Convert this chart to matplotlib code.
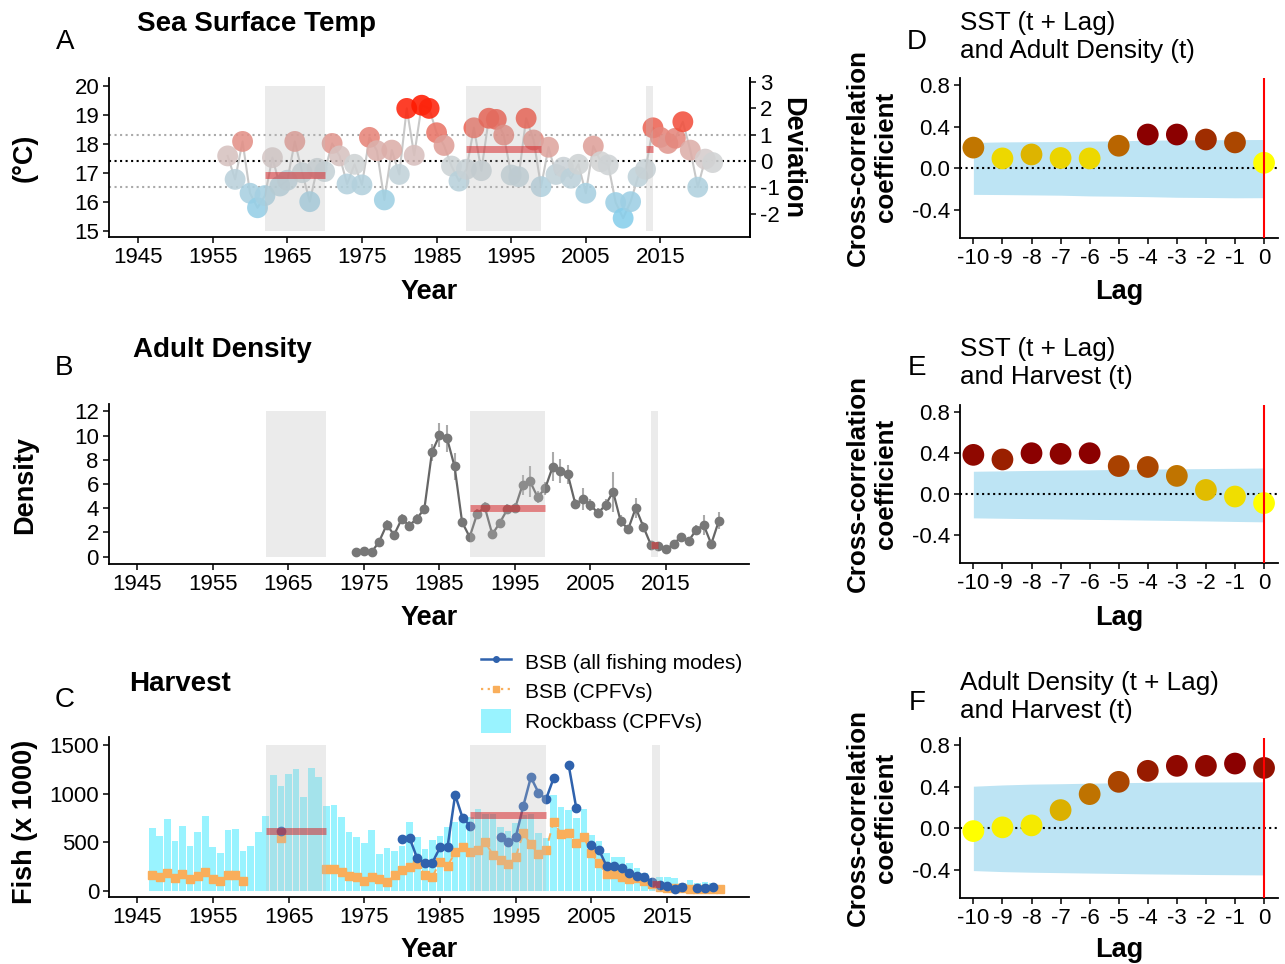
import numpy as np
import matplotlib
matplotlib.use('Agg')
import matplotlib.pyplot as plt
import matplotlib.colors as mcolors
from matplotlib.lines import Line2D
from matplotlib.patches import Patch
from matplotlib.ticker import FuncFormatter

plt.rcParams['font.family'] = ['Liberation Sans', 'DejaVu Sans']
plt.rcParams['axes.linewidth'] = 1.3
plt.rcParams['xtick.major.width'] = 1.1
plt.rcParams['ytick.major.width'] = 1.1
plt.rcParams['xtick.major.size'] = 4
plt.rcParams['ytick.major.size'] = 4
plt.rcParams['xtick.labelsize'] = 16
plt.rcParams['ytick.labelsize'] = 16
plt.rcParams['axes.unicode_minus'] = False

W, H = 1285, 964

# ---- data ----
sst_years = list(range(1957, 2023))
sst = [17.59, 16.78, 18.09, 16.30, 15.80, 16.22, 17.53, 16.55, 16.75, 18.09,
       17.01, 16.01, 17.16, 17.05, 18.02, 17.59, 16.62, 17.30, 16.59, 18.23,
       17.77, 16.07, 17.79, 16.95, 19.23, 17.61, 19.34, 19.23, 18.39, 17.95,
       17.24, 16.72, 17.13, 18.56, 17.08, 18.89, 18.85, 18.31, 16.93, 16.87,
       18.89, 18.14, 16.53, 17.89, 16.95, 17.20, 16.82, 17.30, 16.30, 17.93,
       17.39, 17.28, 15.98, 15.44, 16.01, 16.87, 17.13, 18.56, 18.23, 18.02,
       18.20, 18.77, 17.79, 16.51, 17.48, 17.36]

dens_years = list(range(1974, 2023))
density = [0.36, 0.44, 0.36, 1.24, 2.62, 1.82, 3.12, 2.57, 3.15, 3.95,
           8.61, 10.02, 9.77, 7.45, 2.85, 1.63, 3.56, 4.09, 1.85, 2.81,
           3.92, 4.00, 5.91, 6.21, 4.92, 5.63, 7.43, 7.09, 6.79, 4.34,
           4.75, 4.28, 3.59, 4.28, 5.36, 2.93, 2.27, 4.03, 2.48, 0.99,
           0.89, 0.61, 1.03, 1.66, 1.30, 2.21, 2.62, 1.05, 2.95]
dens_err = [0.1, 0.1, 0.1, 0.2, 0.4, 0.3, 0.4, 0.4, 0.4, 0.3,
            0.7, 1.0, 1.1, 1.1, 0.3, 0.2, 0.4, 0.4, 0.3, 0.3,
            0.4, 0.4, 0.8, 1.3, 0.5, 0.55, 1.2, 1.0, 0.8, 0.4,
            0.9, 0.5, 0.4, 0.5, 1.65, 0.5, 0.3, 0.8, 0.4, 0.15,
            0.15, 0.15, 0.2, 0.3, 0.3, 0.4, 0.8, 0.3, 0.7]

harv_years = list(range(1947, 2023))
nan = np.nan
rockbass = [644, 565, 740, 514, 668, 462, 609, 771, 452, 394,
            623, 634, 414, 462, 603, 771, 1192, 1075, 1202, 1250,
            969, 1267, 1171, 877, 884, 760, 609, 555, 493, 627,
            377, 438, 411, 460, 712, 560, 430, 520, 568, 654,
            712, 729, 763, 839, 791, 791, 660, 620, 700, 780,
            790, 600, 540, 983, 866, 832, 753, 846, 575, 517,
            387, 353, 353, 284, 233, 182, 113, 147, 147, 130,
            86, 113, 79, 96, 79, 45]
bsb_all = [nan, nan, nan, nan, nan, nan, nan, nan, nan, nan,
           nan, nan, nan, nan, nan, nan, nan, 616, nan, nan,
           nan, nan, nan, nan, nan, nan, nan, nan, nan, nan,
           nan, nan, nan, 531, 541, 336, 291, 291, 449, 455,
           986, 747, 671, nan, nan, nan, 552, 500, 552, 873,
           1168, 1010, 942, 1158, nan, 1288, 849, nan, 473, 421,
           257, 257, 240, 188, 154, 147, 96, 58, 51, 24,
           45, nan, 34, 34, 45, nan]
bsb_cpfv = [164, 147, 188, 137, 175, 120, 158, 199, 120, 103,
            164, 164, 106, nan, nan, nan, nan, 541, nan, nan,
            nan, nan, nan, 226, 226, 192, 158, 141, 106, 147,
            120, 89, 164, 216, 243, 277, 164, 147, 301, 257,
            397, 455, 397, 421, 500, 370, 318, 274, 353, 593,
            480, 377, 421, 712, 582, 599, 490, 552, 387, 284,
            175, 175, 147, 123, 137, 106, 72, 45, 34, 34,
            34, 27, 27, 27, 27, 27]

periods = [(1962, 1970), (1989, 1999), (2013, 2014)]

lags = list(range(-10, 1))
ccf_d = [0.20, 0.096, 0.134, 0.10, 0.096, 0.218, 0.326, 0.326, 0.278, 0.25, 0.054]
band_d_hi = [0.25, 0.255, 0.257, 0.258, 0.262, 0.265, 0.272, 0.273, 0.275, 0.277, 0.278]
band_d_lo = [-0.25, -0.252, -0.255, -0.258, -0.265, -0.268, -0.272, -0.278, -0.28, -0.283, -0.282]
ccf_e = [0.384, 0.339, 0.40, 0.394, 0.40, 0.275, 0.266, 0.179, 0.042, -0.022, -0.086]
band_e_hi = [0.224, 0.228, 0.232, 0.235, 0.238, 0.242, 0.245, 0.248, 0.25, 0.253, 0.256]
band_e_lo = [-0.23, -0.234, -0.238, -0.241, -0.245, -0.248, -0.252, -0.256, -0.26, -0.265, -0.269]
ccf_f = [-0.026, 0.01, 0.029, 0.176, 0.33, 0.448, 0.554, 0.602, 0.602, 0.624, 0.582]
band_f_hi = [0.406, 0.418, 0.426, 0.43, 0.435, 0.44, 0.443, 0.445, 0.446, 0.447, 0.448]
band_f_lo = [-0.406, -0.416, -0.422, -0.426, -0.43, -0.434, -0.438, -0.441, -0.444, -0.446, -0.448]


def fx(x):
    return x / W


def fy(y):
    return 1 - y / H


def add_ax(left, top, right, bottom):
    return fig.add_axes([fx(left), fy(bottom), (right - left) / W, (bottom - top) / H])


def classic(ax):
    ax.spines['top'].set_visible(False)
    ax.spines['right'].set_visible(False)
    ax.tick_params(direction='out', colors='black', pad=3)


def shade(ax, ylo, yhi):
    for s, e in periods:
        ax.fill_between([s, e], ylo, yhi, color='#BEBEBE', alpha=0.3, lw=0, zorder=5)


def period_means(years, vals, ax):
    years = np.array(years)
    vals = np.array(vals, dtype=float)
    for s, e in periods:
        m = (years >= s) & (years <= e)
        if np.any(~np.isnan(vals[m])):
            ax.plot([s, e], [np.nanmean(vals[m])] * 2, color='#D7191C', alpha=0.5,
                    lw=5, solid_capstyle='butt', zorder=6)


fig = plt.figure(figsize=(W / 100, H / 100), dpi=100)
year_ticks = list(range(1945, 2016, 10))
plain = FuncFormatter(lambda v, p: '%g' % v)

# ---- A: SST ----
ax = add_ax(109, 78, 750, 237)
classic(ax)
mean_sst = np.mean(sst)
sd_sst = np.std(sst, ddof=1)
shade(ax, 15, 20)
ax.axhline(mean_sst, color='black', ls=':', lw=1.5, zorder=1)
ax.axhline(mean_sst + sd_sst, color='#AAAAAA', ls=':', lw=1.5, zorder=1)
ax.axhline(mean_sst - sd_sst, color='#AAAAAA', ls=':', lw=1.5, zorder=1)
ax.plot(sst_years, sst, color='#C8C8C8', lw=1.5, zorder=2)
cmap_sst = mcolors.LinearSegmentedColormap.from_list('sst', ['#87CEEB', '#D3D3D3', '#FF1A00'])
norm_sst = mcolors.TwoSlopeNorm(vcenter=mean_sst, vmin=min(sst), vmax=max(sst))
ax.scatter(sst_years, sst, s=225, c=sst, cmap=cmap_sst, norm=norm_sst,
           alpha=0.88, edgecolors='none', zorder=3)
period_means(sst_years, sst, ax)
ax.set_xlim(1941.1, 2027.0)
ax.set_ylim(14.79, 20.28)
ax.set_xticks(year_ticks)
ax.set_yticks(range(15, 21))
ax.spines['right'].set_visible(True)
sec = ax.secondary_yaxis('right', functions=(lambda t: (t - mean_sst) / sd_sst,
                                             lambda d: d * sd_sst + mean_sst))
sec.set_yticks(range(-2, 4))
sec.yaxis.set_major_formatter(plain)
sec.tick_params(direction='out', pad=3)

# ---- B: density ----
ax = add_ax(108.5, 404, 749, 564)
classic(ax)
shade(ax, 0, 12)
d = np.array(density)
e = np.array(dens_err)
ax.vlines(dens_years, d - e, d + e, color='#AAAAAA', lw=1.5, zorder=2)
ax.plot(dens_years, density, color='#666666', lw=1.6, marker='o', ms=6,
        mfc='#777777', mec='#777777', zorder=3)
period_means(dens_years, density, ax)
ax.set_xlim(1941.16, 2026.0)
ax.set_ylim(-0.6, 12.6)
ax.set_xticks(year_ticks)
ax.set_yticks(range(0, 13, 2))

# ---- C: harvest ----
ax = add_ax(109, 737, 749, 897)
classic(ax)
ax.bar(harv_years, rockbass, width=0.88, color='#80F0FF', alpha=0.8, lw=0, zorder=1)
ax.plot(harv_years, bsb_cpfv, color='#F9AE5B', lw=1.4, ls=(0, (4, 3)), marker='s',
        ms=5.3, zorder=3)
ax.plot(harv_years, bsb_all, color='#2F62AD', lw=1.8, marker='o', ms=6, zorder=4)
shade(ax, 0, 1500)
period_means(harv_years, bsb_all, ax)
ax.set_xlim(1941.3, 2025.8)
ax.set_ylim(-60, 1580)
ax.set_xticks(year_ticks)
ax.set_yticks([0, 500, 1000, 1500])

handles = [Line2D([], [], color='#2F62AD', lw=1.8, marker='o', ms=4),
           Line2D([], [], color='#F9AE5B', lw=1.6, ls=(0, (1, 2)), marker='s', ms=4.5),
           Patch(facecolor='#80F0FF', alpha=0.8, lw=0)]
fig.legend(handles, ['BSB (all fishing modes)', 'BSB (CPFVs)', 'Rockbass (CPFVs)'],
           loc='upper left', bbox_to_anchor=(fx(481), fy(650)), frameon=False,
           fontsize=15, handlelength=1.45, handleheight=1.35, handletextpad=0.65,
           labelspacing=0.3, borderpad=0, borderaxespad=0)

# ---- D, E, F: cross correlations ----
cmap_cc = mcolors.LinearSegmentedColormap.from_list('cc', ['#FFFF00', '#8B0000'])
right_panels = [(78, 238, ccf_d, band_d_hi, band_d_lo),
                (405, 563, ccf_e, band_e_hi, band_e_lo),
                (738, 898, ccf_f, band_f_hi, band_f_lo)]
for top, bottom, cc, hi, lo in right_panels:
    ax = add_ax(960, top, 1278, bottom)
    classic(ax)
    ax.fill_between(lags, lo, hi, color='#87CEEB', alpha=0.55, lw=0, zorder=1)
    ax.axhline(0, color='black', ls=':', lw=1.5, zorder=2)
    ax.scatter(lags, cc, s=245, c=cc, cmap=cmap_cc,
               norm=mcolors.Normalize(min(cc), max(cc)), edgecolors='none', zorder=3)
    ax.axvline(0, color='red', lw=1.5, zorder=4)
    ax.set_xlim(-10.46, 0.48)
    ax.set_ylim(-0.67, 0.87)
    ax.set_xticks(lags)
    ax.xaxis.set_major_formatter(plain)
    ax.set_yticks([-0.4, 0.0, 0.4, 0.8])
    ax.set_yticklabels(['-0.4', '0.0', '0.4', '0.8'])

# ---- text ----
bold = dict(fontsize=19.5, fontweight='bold', ha='center', va='center')
for y in (292, 618, 950):
    fig.text(fx(429), fy(y), 'Year', **bold)
    fig.text(fx(1119), fy(y), 'Lag', **bold)
fig.text(fx(25), fy(158), '(°C)', rotation=90, **bold)
fig.text(fx(25), fy(485), 'Density', rotation=90, **bold)
fig.text(fx(25), fy(822), 'Fish (x 1000)', rotation=90, **bold)
fig.text(fx(792), fy(158), 'Deviation', rotation=270, **bold)
ylab = dict(fontsize=18.7, fontweight='bold', ha='center', va='center', rotation=90)
for yc in (157, 484, 818):
    fig.text(fx(858), fy(yc), 'Cross-correlation', **ylab)
    fig.text(fx(886), fy(yc), 'coefficient', **ylab)

for letter, x, y in [('A', 65, 42), ('B', 64, 368), ('C', 65, 700),
                     ('D', 917, 42), ('E', 917, 368), ('F', 917, 703)]:
    fig.text(fx(x), fy(y), letter, fontsize=20, ha='center', va='center')

fig.text(fx(137), fy(24), 'Sea Surface Temp', fontsize=20, fontweight='bold', va='center')
fig.text(fx(133), fy(350), 'Adult Density', fontsize=20, fontweight='bold', va='center')
fig.text(fx(129), fy(684), 'Harvest', fontsize=20, fontweight='bold', va='center')

for l1, l2, y in [('SST (t + Lag)', 'and Adult Density (t)', 23),
                  ('SST (t + Lag)', 'and Harvest (t)', 349),
                  ('Adult Density (t + Lag)', 'and Harvest (t)', 683)]:
    fig.text(fx(960), fy(y), l1, fontsize=18.8, va='center')
    fig.text(fx(960), fy(y + 28), l2, fontsize=18.8, va='center')

fig.savefig('out.png', dpi=100)
